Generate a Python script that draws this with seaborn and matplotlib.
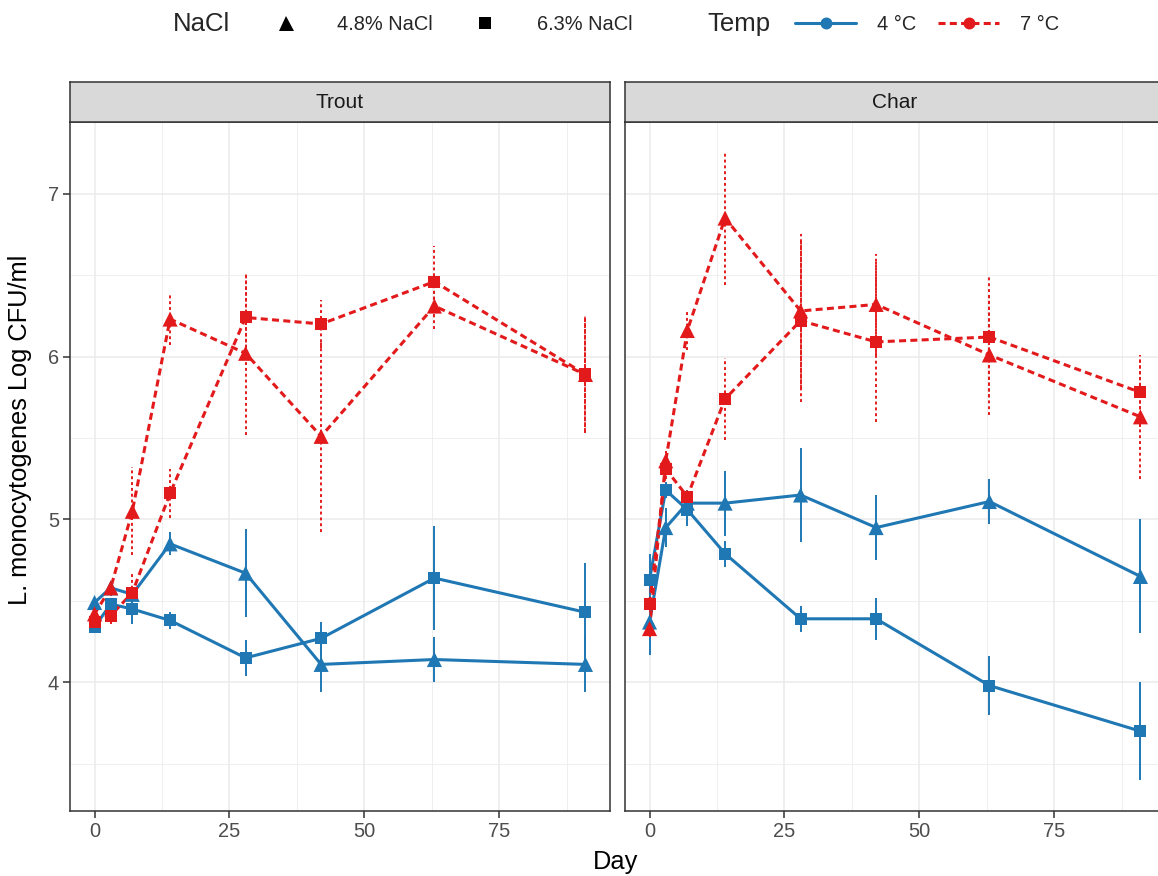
import matplotlib
matplotlib.use("Agg")
import matplotlib.pyplot as plt
from matplotlib.lines import Line2D
from matplotlib.ticker import MultipleLocator
import pandas as pd
import seaborn as sns

# sampling days
days = [0, 3, 7, 14, 28, 42, 63, 91]
fish_names = ["Trout", "Char"]
temp_levels = ["4 °C", "7 °C"]
nacl_levels = ["4.8% NaCl", "6.3% NaCl"]

# Trout, mean log CFU/ml and error
trout_4c_48 = [4.49, 4.58, 4.54, 4.85, 4.67, 4.11, 4.14, 4.11]
trout_4c_48_err = [0.03, 0.04, 0.04, 0.07, 0.27, 0.17, 0.14, 0.17]
trout_4c_63 = [4.34, 4.48, 4.45, 4.38, 4.15, 4.27, 4.64, 4.43]
trout_4c_63_err = [0.03, 0.04, 0.09, 0.05, 0.11, 0.10, 0.32, 0.30]
trout_7c_48 = [4.42, 4.58, 5.05, 6.23, 6.02, 5.51, 6.31, 5.89]
trout_7c_48_err = [0.05, 0.05, 0.27, 0.16, 0.50, 0.59, 0.14, 0.36]
trout_7c_63 = [4.37, 4.41, 4.55, 5.16, 6.24, 6.20, 6.46, 5.89]
trout_7c_63_err = [0.04, 0.05, 0.12, 0.15, 0.26, 0.15, 0.22, 0.35]

# Char
char_4c_48 = [4.37, 4.95, 5.10, 5.10, 5.15, 4.95, 5.11, 4.65]
char_4c_48_err = [0.20, 0.12, 0.08, 0.20, 0.29, 0.20, 0.14, 0.35]
char_4c_63 = [4.63, 5.18, 5.06, 4.79, 4.39, 4.39, 3.98, 3.70]
char_4c_63_err = [0.16, 0.05, 0.10, 0.08, 0.08, 0.13, 0.18, 0.30]
char_7c_48 = [4.33, 5.36, 6.16, 6.85, 6.28, 6.32, 6.01, 5.63]
char_7c_48_err = [0.05, 0.06, 0.12, 0.41, 0.47, 0.31, 0.37, 0.38]
char_7c_63 = [4.48, 5.31, 5.14, 5.74, 6.22, 6.09, 6.12, 5.78]
char_7c_63_err = [0.05, 0.06, 0.05, 0.25, 0.50, 0.49, 0.37, 0.21]

series = {
    ("Trout", "4 °C", "4.8% NaCl"): (trout_4c_48, trout_4c_48_err),
    ("Trout", "4 °C", "6.3% NaCl"): (trout_4c_63, trout_4c_63_err),
    ("Trout", "7 °C", "4.8% NaCl"): (trout_7c_48, trout_7c_48_err),
    ("Trout", "7 °C", "6.3% NaCl"): (trout_7c_63, trout_7c_63_err),
    ("Char", "4 °C", "4.8% NaCl"): (char_4c_48, char_4c_48_err),
    ("Char", "4 °C", "6.3% NaCl"): (char_4c_63, char_4c_63_err),
    ("Char", "7 °C", "4.8% NaCl"): (char_7c_48, char_7c_48_err),
    ("Char", "7 °C", "6.3% NaCl"): (char_7c_63, char_7c_63_err),
}

rows = []
for (fish, temp, nacl), (vals, errs) in series.items():
    for d, v, e in zip(days, vals, errs):
        rows.append(dict(Fish=fish, Temp=temp, NaCl=nacl, Day=d, logcfu=v, err=e))
df = pd.DataFrame(rows)

sns.set_theme(style="white")
plt.rcParams['font.family'] = ['Liberation Sans', 'DejaVu Sans']

W, H = 1158, 876
fig = plt.figure(figsize=(W / 100, H / 100), dpi=100)


def px_axes(left, top, width, height):
    return fig.add_axes([left / W, 1 - (top + height) / H, width / W, height / H])


palette = {"4 °C": "#1F78B4", "7 °C": "#E31A1C"}
line_dashes = {"4 °C": "", "7 °C": (2.3, 1.4)}
err_styles = {"4 °C": "solid", "7 °C": (0, (1.5, 1.5))}
marker_specs = [("4.8% NaCl", "^", 118), ("6.3% NaCl", "s", 74)]
frame_col = "#333333"

panel_left = {"Trout": 70, "Char": 625}
panel_top, panel_h, panel_w = 122, 689, 540

for fish in fish_names:
    ax = px_axes(panel_left[fish], panel_top, panel_w, panel_h)
    sub = df[df.Fish == fish]

    for temp in temp_levels:
        t = sub[sub.Temp == temp]
        ax.vlines(t.Day, t.logcfu - t.err, t.logcfu + t.err, colors=palette[temp],
                  linestyles=err_styles[temp], linewidth=1.4, zorder=2)

    sns.lineplot(data=sub, x="Day", y="logcfu", hue="Temp", style="Temp", units="NaCl",
                 estimator=None, palette=palette, dashes=line_dashes, linewidth=2.2,
                 legend=False, ax=ax, zorder=3)
    for nacl, mk, size in marker_specs:
        sns.scatterplot(data=sub[sub.NaCl == nacl], x="Day", y="logcfu", hue="Temp",
                        palette=palette, marker=mk, s=size, linewidth=0, legend=False,
                        ax=ax, zorder=4)

    ax.set_xlim(-4.55, 95.55)
    ax.set_ylim(3.21, 7.44)
    ax.xaxis.set_major_locator(MultipleLocator(25))
    ax.xaxis.set_minor_locator(MultipleLocator(12.5))
    ax.yaxis.set_major_locator(MultipleLocator(1))
    ax.yaxis.set_minor_locator(MultipleLocator(0.5))
    ax.grid(which="major", color="#EBEBEB", linewidth=1.1)
    ax.grid(which="minor", color="#EBEBEB", linewidth=0.55)
    ax.set_axisbelow(True)
    for sp in ax.spines.values():
        sp.set_color(frame_col)
        sp.set_linewidth(1.1)
    ax.tick_params(which="major", bottom=True, left=True, length=5, width=1.1,
                   color=frame_col, labelcolor="#4D4D4D", labelsize=14.4, pad=3)
    ax.tick_params(which="minor", length=0)
    ax.set_xlabel("")
    ax.set_ylabel("")
    if fish != "Trout":
        ax.tick_params(axis="y", left=False, labelleft=False)

    # facet strip
    strip = px_axes(panel_left[fish], 82, panel_w, 40)
    strip.set_facecolor("#D9D9D9")
    strip.set_xticks([])
    strip.set_yticks([])
    for sp in strip.spines.values():
        sp.set_color(frame_col)
        sp.set_linewidth(1.1)
    strip.text(0.5, 0.5, fish, ha="center", va="center", fontsize=15, color="#1A1A1A",
               transform=strip.transAxes)

# axis titles
fig.text(20 / W, 1 - 430 / H, "L. monocytogenes Log CFU/ml", rotation=90,
         ha="center", va="center", fontsize=18.3, color="black")
fig.text(616 / W, 1 - 862 / H, "Day", ha="center", va="center", fontsize=18.3, color="black")

# legends along the top
leg_y = 1 - 24 / H
fig.text(173 / W, leg_y, "NaCl", ha="left", va="center", fontsize=18.5)
fig.text(707 / W, leg_y, "Temp", ha="left", va="center", fontsize=18.5)

nacl_handles = [Line2D([], [], linestyle="none", marker="^", color="black", markersize=10.8, mew=0),
                Line2D([], [], linestyle="none", marker="s", color="black", markersize=8.6, mew=0)]
temp_handles = [Line2D([], [], color=palette["4 °C"], lw=2.2, marker="o", markersize=8.6, mew=0),
                Line2D([], [], color=palette["7 °C"], lw=2.2, dashes=line_dashes["7 °C"],
                       marker="o", markersize=8.6, mew=0)]
leg_kw = dict(loc="center left", ncol=2, frameon=False, fontsize=14.4, handlelength=3.05,
              handletextpad=1.05, columnspacing=1.1, borderpad=0, borderaxespad=0, numpoints=1)
fig.legend(handles=nacl_handles, labels=nacl_levels, bbox_to_anchor=(255 / W, leg_y), **leg_kw)
fig.legend(handles=temp_handles, labels=temp_levels, bbox_to_anchor=(795 / W, leg_y), **leg_kw)

fig.savefig("out.png", dpi=100)
